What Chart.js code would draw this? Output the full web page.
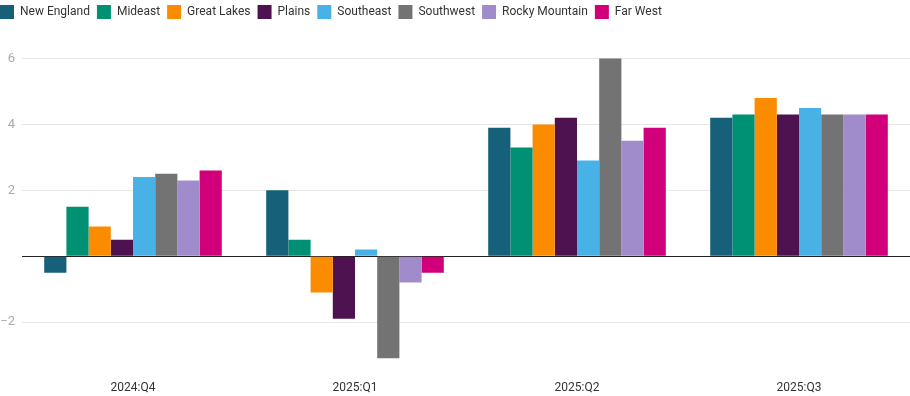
<!DOCTYPE html>
<html>
<head>
<meta charset="utf-8">
<script src="https://cdn.jsdelivr.net/npm/chart.js@4/dist/chart.umd.min.js"></script>
<style>
  html, body { margin: 0; padding: 0; background: #fff; }
  #wrap { width: 910px; height: 396px; position: relative; }
</style>
</head>
<body>
<div id="wrap"><canvas id="chart"></canvas></div>
<script>
const quarters = ['2024:Q4', '2025:Q1', '2025:Q2', '2025:Q3'];
const regions = ['New England', 'Mideast', 'Great Lakes', 'Plains', 'Southeast', 'Southwest', 'Rocky Mountain', 'Far West'];
const colors = ['#16607a', '#009175', '#fb8c00', '#4e1250', '#48b2e6', '#737373', '#a08cca', '#d1007a'];

// one array per region, values per quarter
const newEngland = [-0.5, 2.0, 3.9, 4.2];
const mideast = [1.5, 0.5, 3.3, 4.3];
const greatLakes = [0.9, -1.1, 4.0, 4.8];
const plains = [0.5, -1.9, 4.2, 4.3];
const southeast = [2.4, 0.2, 2.9, 4.5];
const southwest = [2.5, -3.1, 6.0, 4.3];
const rockyMountain = [2.3, -0.8, 3.5, 4.3];
const farWest = [2.6, -0.5, 3.9, 4.3];

const yTicks = [-2, 0, 2, 4, 6];

const series = [newEngland, mideast, greatLakes, plains, southeast, southwest, rockyMountain, farWest];

Chart.defaults.font.family = 'Roboto, "Noto Sans", sans-serif';

// push the plot down a bit below the legend
const legendGap = {
    id: 'legendGap',
    beforeInit(chart) {
        const fit = chart.legend.fit;
        chart.legend.fit = function () {
            fit.call(this);
            this.height += 13;
        };
    }
};

new Chart(document.getElementById('chart'), {
    type: 'bar',
    data: {
        labels: quarters,
        datasets: series.map((values, i) => ({
            label: regions[i],
            data: values,
            backgroundColor: colors[i],
            borderWidth: 0,
            barPercentage: 1,
            categoryPercentage: 0.8
        }))
    },
    plugins: [legendGap],
    options: {
        responsive: true,
        maintainAspectRatio: false,
        animation: false,
        layout: { padding: { left: -7, right: 0, top: -2, bottom: 0 } },
        plugins: {
            tooltip: { enabled: false },
            legend: {
                position: 'top',
                align: 'start',
                labels: {
                    boxWidth: 14,
                    boxHeight: 14,
                    padding: 7,
                    color: '#333',
                    font: { size: 12 }
                }
            }
        },
        scales: {
            x: {
                grid: { display: false, drawTicks: false },
                border: { display: false },
                ticks: { color: '#333', font: { size: 12 }, padding: 9.5 },
                afterFit: axis => { axis.height = 24.5; }
            },
            y: {
                min: -3.5,
                max: 6.5,
                afterBuildTicks: axis => { axis.ticks = yTicks.map(v => ({ value: v })); },
                afterFit: axis => { axis.width = 29; },
                border: { display: false },
                grid: {
                    drawTicks: false,
                    color: ctx => ctx.tick && ctx.tick.value === 0 ? '#222' : '#e6e6e6',
                    lineWidth: 1
                },
                ticks: {
                    color: '#aaa',
                    font: { size: 13 },
                    padding: 7,
                    callback: v => v === 0 ? '' : String(v).replace('-', '\u2212')
                }
            }
        }
    }
});
</script>
</body>
</html>
